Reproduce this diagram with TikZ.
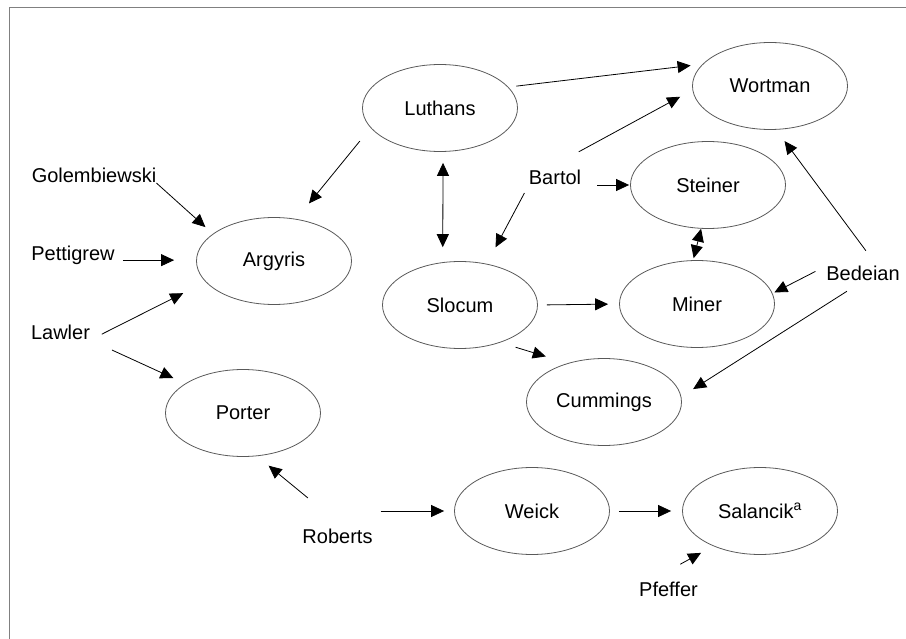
\documentclass[tikz,border=0pt]{standalone}
\usepackage{fontspec}
\setmainfont{Liberation Sans}
\usetikzlibrary{arrows.meta,shapes.geometric}

\begin{document}
\begin{tikzpicture}[x=1pt,y=-1pt,>={Triangle[length=13pt,width=12pt]},
  every node/.style={font=\fontsize{20}{24}\selectfont},
  author/.style={ellipse,draw=black!65,line width=0.8pt,minimum width=155pt,minimum height=87pt,inner sep=0pt},
  citer/.style={inner sep=0pt},
  cite/.style={->,line width=0.8pt}]
\useasboundingbox (0,0) rectangle (906,639);
\draw[black!50,line width=1pt] (9,639) -- (9,8) -- (906,8); % frame
\foreach \n/\x/\y/\t in {luthans/440/108/Luthans, wortman/770/86/Wortman,
    argyris/274/261/Argyris, steiner/708/185/Steiner, slocum/460/305/Slocum,
    miner/697/304/Miner, cummings/604/402/Cummings, porter/243/413/Porter,
    weick/532/511/Weick, salancik/760/511/{Salancik\textsuperscript{a}}}
  \node[author] (\n) at (\x,\y) {\t};
\foreach \n/\x/\y/\t in {golembiewski/94/175.5/Golembiewski, pettigrew/73/255/Pettigrew,
    lawler/60.5/332.5/Lawler, roberts/337.5/536/Roberts, bartol/555/177.5/Bartol,
    bedeian/863/273.5/Bedeian, pfeffer/668.5/589.5/Pfeffer}
  \node[citer] (\n) at (\x,\y) {\t};
\foreach \a/\b/\s/\e in {luthans.196/argyris.62/17/20, luthans.17/wortman.162/8/12,
    golembiewski.south east/argyris.156/0/10, lawler.south east/argyris.197/13/25,
    lawler.south east/porter.153/24/13, roberts.45/porter.288/48/15,
    pfeffer.160/salancik.217/37/14, bartol.142/wortman.183/38/14,
    bartol.south west/slocum.57/9/18.6, slocum.317/cummings.133/16/23,
    bedeian.north west/miner.8/12/2, bedeian.28/wortman.278/19/14,
    bedeian.south/cummings.4/19/14}
  \draw[cite,shorten <=\s pt,shorten >=\e pt] (\a) -- (\b);
% straight ones
\draw[cite,shorten <=8pt,shorten >=22pt] (pettigrew.-7) -- (pettigrew.-7 -| argyris.west);
\draw[cite,shorten <=8pt,shorten >=10pt] (roberts.east |- weick.west) -- (weick.west);
\draw[cite,shorten <=9pt,shorten >=11pt] (weick.east) -- (salancik.west);
\draw[cite,shorten <=16pt,shorten >=1pt] (steiner.west -| bartol.east) -- (steiner.west);
\draw[cite,shorten <=9pt,shorten >=11pt] (slocum.east) -- (miner.west);
% both ways
\draw[cite,<->,shorten <=11pt,shorten >=15pt] (luthans.274) -- (slocum.112);
\draw[cite,<->,shorten >=2pt] (steiner.261) -- (miner.95);
\end{tikzpicture}
\end{document}
